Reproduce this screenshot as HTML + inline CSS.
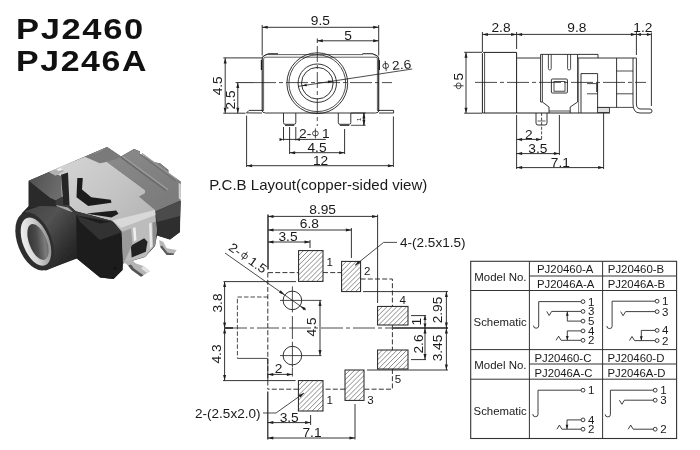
<!DOCTYPE html>
<html><head><meta charset="utf-8"><title>PJ2460</title>
<style>
html,body{margin:0;padding:0;background:#fff;}
body{width:700px;height:450px;overflow:hidden;font-family:"Liberation Sans",sans-serif;}
svg{display:block;font-family:"Liberation Sans",sans-serif;}
</style></head><body>
<svg width="700" height="450" viewBox="0 0 700 450">
<rect width="700" height="450" fill="#ffffff"/>
<defs><filter id="nf" x="0" y="0" width="700" height="450" filterUnits="userSpaceOnUse"><feOffset dx="0" dy="0"/></filter></defs>
<g filter="url(#nf)">
<defs>
<filter id="pb" x="-5%" y="-5%" width="110%" height="110%"><feGaussianBlur stdDeviation="0.7"/></filter>
<linearGradient id="gcyl" x1="0" y1="0" x2="1" y2="1">
<stop offset="0" stop-color="#444"/><stop offset="0.35" stop-color="#525252"/><stop offset="0.7" stop-color="#303030"/><stop offset="1" stop-color="#1c1c1c"/></linearGradient>
<linearGradient id="gmet" x1="0" y1="0" x2="1" y2="0.6">
<stop offset="0" stop-color="#d6d6d6"/><stop offset="0.6" stop-color="#c6c6c6"/><stop offset="1" stop-color="#b8b8b8"/></linearGradient>
<linearGradient id="gpl" x1="0" y1="0" x2="1" y2="1">
<stop offset="0" stop-color="#8e8e8e"/><stop offset="1" stop-color="#787878"/></linearGradient>
<linearGradient id="gblk" x1="0" y1="0" x2="1" y2="0.3"><stop offset="0" stop-color="#4e4e4e"/><stop offset="1" stop-color="#6c6c6c"/></linearGradient>
<linearGradient id="gring" x1="0" y1="0.3" x2="1" y2="0.7"><stop offset="0" stop-color="#f0f0f0"/><stop offset="0.5" stop-color="#d0d0d0"/><stop offset="1" stop-color="#8c8c8c"/></linearGradient>
<linearGradient id="ghole" x1="0" y1="0.2" x2="1" y2="0.8">
<stop offset="0" stop-color="#333"/><stop offset="0.45" stop-color="#4a4a4a"/><stop offset="0.8" stop-color="#7c7c7c"/><stop offset="1" stop-color="#606060"/></linearGradient>
</defs>
<g filter="url(#pb)">
<polygon points="28.7,180.8 107,147 121,156.5 134,149 140,151.5 140,154 155,162.5 160,163.3 168.3,170 168.3,173 180.5,181.5 180,232 170,239.5 157,235.5 155,246 145,257 123,263.5 122.5,270 113.5,279 100,277.5 77,258.5 45,270.5 30,262 20,245 17,228 22,213 28.7,206" fill="#262626" />
<polygon points="28.7,180.8 50,171.7 61,175 63,196.5 55.6,200.6 50,198" fill="url(#gblk)" />
<polygon points="28.7,181.5 50,198 55.6,200.6 56,206.5 28.7,207" fill="#2c2c2c" />
<polygon points="85,156.7 107,147 121,156.5 134,149 140,151.5 140,154 155,162.5 160,163.3 168.3,170 168.3,173 180.5,181.5 180.8,200.5 155.7,211.2 139,197 145,193 145,190 106.7,161.7 100,163.3" fill="url(#gpl)" />
<path d="M120.8,157 L166,190.5" stroke="#6c6c6c" stroke-width="1.6" fill="none"/>
<path d="M122.5,156.2 L168,189.8" stroke="#9c9c9c" stroke-width="1.4" fill="none"/>
<path d="M140.5,154.5 L176,181" stroke="#707070" stroke-width="1.5" fill="none"/>
<path d="M142,153.6 L177.5,180" stroke="#989898" stroke-width="1.2" fill="none"/>
<polygon points="100,151.7 107,147 121,156.5 118,158.5 106.7,161.7 100,163.3 85,156.7" fill="#7a7a7a" />
<polygon points="155.7,211.2 181,200.8 180,222 157,226" fill="#4c4c4c" />
<polygon points="178.6,183 180.8,184 181,200 178.8,198.5" fill="#d0d0d0" />
<polygon points="50,171.7 58.3,167.5 85,156.7 100,163.3 106.7,161.7 145,190 145,193.3 139.2,196.7 155,210 155,212 121,228.4 111.5,220.7 75.8,211.3 68.8,205.1 62,200 61,176" fill="url(#gmet)" />
<polygon points="49,172.3 58.5,168 64.5,171 55.5,175.8" fill="#b0b0b0" />
<polygon points="56,169.5 60,168 63,169.5 59,171" fill="#f0f0f0" />
<polygon points="61,174.8 68,172.4 69.5,205 63.3,205" fill="#262626" />
<polygon points="77.3,177.9 82.8,177.9 82,189.5 91.3,197.3 110.8,199.7 111.5,202.8 88.2,205.9 76.5,197.3" fill="#1e1e1e" />
<polygon points="91.3,212.9 116.2,210.5 118.5,213.7 111.5,217.5 86.7,213.7" fill="#1e1e1e" />
<polygon points="56,206.5 55.6,200.6 63,196.5 63.3,205 68.8,205.1 75.8,211.3 111.5,220.7 121,228.4 100,224 76.7,215.5 60,207.5" fill="#3a3a3a" />
<polygon points="56,205 68,207.5 73,212 61,210.5" fill="#a8a8a8" />
<polygon points="76.7,215.5 111.7,221.7 122.5,232 122.5,270 113.5,279 100,277.5 76.7,258.5" fill="#1e1e1e" />
<polygon points="76.7,215.5 100,223.5 112,221.5 122.5,232 100,240 80,222" fill="#303030" />
<polygon points="112.5,220.5 155,210 156.7,230 155,245 145,256.7 123.3,263.3 121.7,231.7" fill="#bcbcbc" />
<polygon points="112.5,220.5 155,210 155.6,215 121,228" fill="#d8d8d8" />
<polygon points="130.8,245.8 144.2,238.3 147.5,241.7 145.8,251.7 131.7,257.5" fill="#222" />
<polygon points="121.7,232 131,228.5 132.5,244 124,262.5 123,262.5" fill="#9a9a9a" />
<polygon points="133,228 135.5,227.3 136.5,240 134,241.5" fill="#efefef" />
<polygon points="149,223.5 151.5,222.8 152.5,246 150,249" fill="#e8e8e8" />
<polygon points="152.5,222.5 156,221.5 156.7,232 155,245 153,247.5" fill="#8c8c8c" />
<polygon points="123.3,261.7 131.7,260 136,263.5 143.3,266 150,271.2 141,276.7 131.7,270 128,265.5" fill="#b4b4b4" />
<polygon points="128,265.5 131.7,270 141,276.7 143.5,275.3 134,268.5 131,264.5" fill="#555" />
<polygon points="143.3,266 150,271.2 147,273 141,268.5" fill="#e0e0e0" />
<polygon points="159.2,240 163.3,241.7 166.7,248.3 176.7,250 173.3,255 166.7,255 160,246.7" fill="#b8b8b8" />
<polygon points="160,246.7 166.7,255 173.3,255 174.3,253.5 167.5,252.8 162,245.5" fill="#5a5a5a" />
<circle cx="115" cy="268.3" r="1.1" fill="#0c0c0c"/>
<polygon points="156.7,222 180,216 180,232 170,239.5 157.5,235.5" fill="#2e2e2e" />
<polygon points="25,211 40,206 58,206.5 76,214 76.5,257.5 46,270.5" fill="url(#gcyl)" />
<ellipse cx="34.6" cy="241.4" rx="17" ry="30.5" transform="rotate(-21 34.6 241.4)" fill="#2d2d2d"/>
<ellipse cx="36" cy="241.6" rx="13.2" ry="25.4" transform="rotate(-21 36 241.6)" fill="url(#gring)"/>
<ellipse cx="38" cy="242" rx="8.8" ry="19" transform="rotate(-21 38 242)" fill="url(#ghole)"/>
</g>
<text transform="translate(16.0 39) scale(1.17 1)" font-size="29.5" text-anchor="start" font-weight="bold" fill="#111" letter-spacing="1.4">PJ2460</text>
<text transform="translate(16.0 71.4) scale(1.148 1)" font-size="29.5" text-anchor="start" font-weight="bold" fill="#111" letter-spacing="1.4">PJ246A</text>
<line x1="262.2" y1="25" x2="262.2" y2="55.5" stroke="#1e1e1e" stroke-width="0.9" />
<line x1="378.7" y1="25" x2="378.7" y2="55.5" stroke="#1e1e1e" stroke-width="0.9" />
<line x1="262.2" y1="27.3" x2="378.7" y2="27.3" stroke="#1e1e1e" stroke-width="0.9" />
<polygon points="262.20,27.30 267.70,25.80 267.70,28.80" fill="#1e1e1e"/>
<polygon points="378.70,27.30 373.20,28.80 373.20,25.80" fill="#1e1e1e"/>
<text transform="translate(320.3 24.9) scale(1.1 1)" font-size="12.5" text-anchor="middle" font-weight="normal" fill="#1a1a1a" >9.5</text>
<line x1="317.3" y1="38.5" x2="317.3" y2="43" stroke="#1e1e1e" stroke-width="0.9" />
<line x1="317.3" y1="40.8" x2="378.7" y2="40.8" stroke="#1e1e1e" stroke-width="0.9" />
<polygon points="317.30,40.80 322.80,39.30 322.80,42.30" fill="#1e1e1e"/>
<polygon points="378.70,40.80 373.20,42.30 373.20,39.30" fill="#1e1e1e"/>
<text transform="translate(348 39.8) scale(1.1 1)" font-size="12.5" text-anchor="middle" font-weight="normal" fill="#1a1a1a" >5</text>
<path d="M262.2,110.5 L262.2,58.5 Q262.6,56 265,55.2 L268.5,53.8 L278,53.7" stroke="#1e1e1e" stroke-width="1.1" fill="none" />
<path d="M263.6,110.5 L263.6,59 Q264,57.2 266,57.2 L376,57.2 Q377.4,57.2 377.4,59 L377.4,110.5" stroke="#1e1e1e" stroke-width="0.7" fill="none" />
<path d="M268,54.6 L363,54.6" stroke="#1e1e1e" stroke-width="0.7" fill="none" />
<path d="M362.5,53.7 L372.5,53.7 L376,55.2 Q378.3,56 378.7,58.5 L378.7,110.5" stroke="#1e1e1e" stroke-width="1.1" fill="none" />
<line x1="261.4" y1="60" x2="261.4" y2="70" stroke="#1e1e1e" stroke-width="1.2" />
<line x1="379.4" y1="60" x2="379.4" y2="70" stroke="#1e1e1e" stroke-width="1.2" />
<path d="M263.6,110.4 L249,110.4 L246.5,112.9 L262,113 " stroke="#1e1e1e" stroke-width="0.9" fill="none" />
<path d="M377.4,110.4 L393.6,110.4 L393.6,113 L379,113" stroke="#1e1e1e" stroke-width="0.9" fill="none" />
<path d="M261.5,110 Q262.5,113 265.5,113 L375.5,113 Q378.5,113 379.5,110" stroke="#1e1e1e" stroke-width="0.9" fill="none" />
<circle cx="317.3" cy="83.2" r="30.4" fill="none" stroke="#1e1e1e" stroke-width="0.9"/>
<circle cx="317.3" cy="83.2" r="28.4" fill="none" stroke="#1e1e1e" stroke-width="0.8"/>
<circle cx="317.3" cy="83.2" r="19.2" fill="none" stroke="#1e1e1e" stroke-width="0.9"/>
<circle cx="317.3" cy="83.2" r="15.8" fill="none" stroke="#1e1e1e" stroke-width="0.9"/>
<line x1="254" y1="82.6" x2="392" y2="82.6" stroke="#1e1e1e" stroke-width="0.8" stroke-dasharray="22 3 4 3" />
<line x1="317.3" y1="46" x2="317.3" y2="126" stroke="#1e1e1e" stroke-width="0.8" stroke-dasharray="16 3 4 3" />
<line x1="298" y1="86.4" x2="412.2" y2="69" stroke="#1e1e1e" stroke-width="0.8" />
<polygon points="301.70,85.80 306.45,83.76 306.84,86.33" fill="#1e1e1e"/>
<polygon points="333.00,81.10 328.25,83.14 327.86,80.57" fill="#1e1e1e"/>
<g transform="translate(385.7 65.9) rotate(-6)"><ellipse cx="0" cy="0" rx="2.9" ry="2.465" fill="none" stroke="#1e1e1e" stroke-width="0.8"/><line x1="0" y1="-5" x2="0" y2="5" stroke="#1e1e1e" stroke-width="0.8"/></g>
<text transform="translate(392.5 70.1) rotate(-6) scale(1.1 1)" font-size="12.5" text-anchor="start" font-weight="normal" fill="#1a1a1a" >2.6</text>
<path d="M283.5,113 L283.5,122.5 Q283.5,124.3 285.1,124.3 L294.2,124.3 Q295.8,124.3 295.8,122.5 L295.8,113" stroke="#1e1e1e" stroke-width="0.9" fill="none" />
<line x1="285.0" y1="125.3" x2="294.3" y2="125.3" stroke="#1e1e1e" stroke-width="1.0" />
<path d="M338.3,113 L338.3,122.5 Q338.3,124.3 339.90000000000003,124.3 L349.2,124.3 Q350.8,124.3 350.8,122.5 L350.8,113" stroke="#1e1e1e" stroke-width="0.9" fill="none" />
<line x1="339.8" y1="125.3" x2="349.3" y2="125.3" stroke="#1e1e1e" stroke-width="1.0" />
<line x1="223.3" y1="57.9" x2="262" y2="57.9" stroke="#1e1e1e" stroke-width="0.9" />
<line x1="223.3" y1="113.2" x2="245.5" y2="113.2" stroke="#1e1e1e" stroke-width="0.9" />
<line x1="225.2" y1="57.9" x2="225.2" y2="113.2" stroke="#1e1e1e" stroke-width="0.9" />
<polygon points="225.20,57.90 226.70,63.40 223.70,63.40" fill="#1e1e1e"/>
<polygon points="225.20,113.20 223.70,107.70 226.70,107.70" fill="#1e1e1e"/>
<text transform="translate(221.6 85.8) rotate(-90) scale(1.1 1)" font-size="12.5" text-anchor="middle" font-weight="normal" fill="#1a1a1a" >4.5</text>
<line x1="235.6" y1="82.6" x2="254" y2="82.6" stroke="#1e1e1e" stroke-width="0.9" />
<line x1="237.8" y1="82.6" x2="237.8" y2="113.2" stroke="#1e1e1e" stroke-width="0.9" />
<polygon points="237.80,82.60 239.30,88.10 236.30,88.10" fill="#1e1e1e"/>
<polygon points="237.80,113.20 236.30,107.70 239.30,107.70" fill="#1e1e1e"/>
<text transform="translate(234.8 100) rotate(-90) scale(1.1 1)" font-size="12.5" text-anchor="middle" font-weight="normal" fill="#1a1a1a" >2.5</text>
<line x1="351" y1="125.3" x2="365.6" y2="125.3" stroke="#1e1e1e" stroke-width="0.8" />
<line x1="351" y1="113" x2="365.6" y2="113" stroke="#1e1e1e" stroke-width="0.8" />
<line x1="363.9" y1="113" x2="363.9" y2="125.3" stroke="#1e1e1e" stroke-width="0.9" />
<polygon points="363.90,113.00 365.40,118.50 362.40,118.50" fill="#1e1e1e"/>
<polygon points="363.90,125.30 362.40,119.80 365.40,119.80" fill="#1e1e1e"/>
<line x1="363.9" y1="113" x2="363.9" y2="125.3" stroke="#1e1e1e" stroke-width="0.9" />
<text transform="translate(360.6 119.3) rotate(-90) scale(1.1 1)" font-size="6" text-anchor="middle" font-weight="normal" fill="#1a1a1a" >1</text>
<line x1="283.5" y1="127" x2="283.5" y2="140.5" stroke="#1e1e1e" stroke-width="0.9" />
<line x1="295.8" y1="127" x2="295.8" y2="140.5" stroke="#1e1e1e" stroke-width="0.9" />
<line x1="289.6" y1="127" x2="289.6" y2="154" stroke="#1e1e1e" stroke-width="0.9" />
<line x1="283.5" y1="139.4" x2="325.8" y2="139.4" stroke="#1e1e1e" stroke-width="0.9" />
<polygon points="283.50,139.40 279.50,140.90 279.50,137.90" fill="#1e1e1e"/>
<polygon points="295.80,139.40 299.80,137.90 299.80,140.90" fill="#1e1e1e"/>
<text transform="translate(299 137.7) scale(1.1 1)" font-size="12.5" text-anchor="start" font-weight="normal" fill="#1a1a1a" >2-</text>
<g transform="translate(315.4 133.4) rotate(0)"><ellipse cx="0" cy="0" rx="2.9" ry="2.465" fill="none" stroke="#1e1e1e" stroke-width="0.8"/><line x1="0" y1="-5" x2="0" y2="5" stroke="#1e1e1e" stroke-width="0.8"/></g>
<text transform="translate(322 137.7) scale(1.1 1)" font-size="12.5" text-anchor="start" font-weight="normal" fill="#1a1a1a" >1</text>
<line x1="344.6" y1="129" x2="344.6" y2="154" stroke="#1e1e1e" stroke-width="0.9" />
<line x1="289.6" y1="152.7" x2="344.6" y2="152.7" stroke="#1e1e1e" stroke-width="0.9" />
<polygon points="289.60,152.70 295.10,151.20 295.10,154.20" fill="#1e1e1e"/>
<polygon points="344.60,152.70 339.10,154.20 339.10,151.20" fill="#1e1e1e"/>
<text transform="translate(317 151.6) scale(1.1 1)" font-size="12.5" text-anchor="middle" font-weight="normal" fill="#1a1a1a" >4.5</text>
<line x1="246.6" y1="115.7" x2="246.6" y2="167" stroke="#1e1e1e" stroke-width="0.9" />
<line x1="393.4" y1="116.5" x2="393.4" y2="167" stroke="#1e1e1e" stroke-width="0.9" />
<line x1="246.6" y1="165.7" x2="393.4" y2="165.7" stroke="#1e1e1e" stroke-width="0.9" />
<polygon points="246.60,165.70 252.10,164.20 252.10,167.20" fill="#1e1e1e"/>
<polygon points="393.40,165.70 387.90,167.20 387.90,164.20" fill="#1e1e1e"/>
<text transform="translate(320.6 165.2) scale(1.1 1)" font-size="12.5" text-anchor="middle" font-weight="normal" fill="#1a1a1a" >12</text>
<text transform="translate(209.3 189.6)" font-size="15" text-anchor="start" font-weight="normal" fill="#1a1a1a" textLength="218" lengthAdjust="spacingAndGlyphs" >P.C.B Layout(copper-sided view)</text>
<line x1="482.4" y1="32" x2="482.4" y2="52" stroke="#1e1e1e" stroke-width="0.9" />
<line x1="516.6" y1="32" x2="516.6" y2="49" stroke="#1e1e1e" stroke-width="0.9" />
<line x1="636.4" y1="31.6" x2="636.4" y2="55" stroke="#1e1e1e" stroke-width="0.9" />
<line x1="651.4" y1="32.5" x2="651.4" y2="106" stroke="#1e1e1e" stroke-width="0.9" />
<line x1="482.4" y1="34.4" x2="651.4" y2="34.4" stroke="#1e1e1e" stroke-width="0.9" />
<polygon points="482.40,34.40 487.90,32.90 487.90,35.90" fill="#1e1e1e"/>
<polygon points="516.60,34.40 511.10,35.90 511.10,32.90" fill="#1e1e1e"/>
<polygon points="516.60,34.40 522.10,32.90 522.10,35.90" fill="#1e1e1e"/>
<polygon points="636.40,34.40 630.90,35.90 630.90,32.90" fill="#1e1e1e"/>
<polygon points="636.40,34.40 640.90,32.90 640.90,35.90" fill="#1e1e1e"/>
<polygon points="651.40,34.40 646.90,35.90 646.90,32.90" fill="#1e1e1e"/>
<text transform="translate(501 32.4) scale(1.1 1)" font-size="12.5" text-anchor="middle" font-weight="normal" fill="#1a1a1a" >2.8</text>
<text transform="translate(576.8 32.4) scale(1.1 1)" font-size="12.5" text-anchor="middle" font-weight="normal" fill="#1a1a1a" >9.8</text>
<text transform="translate(642.8 32.4) scale(1.1 1)" font-size="12.5" text-anchor="middle" font-weight="normal" fill="#1a1a1a" >1.2</text>
<line x1="464.2" y1="52.3" x2="482" y2="52.3" stroke="#1e1e1e" stroke-width="0.9" />
<line x1="464.2" y1="113.2" x2="482" y2="113.2" stroke="#1e1e1e" stroke-width="0.9" />
<line x1="466" y1="52.3" x2="466" y2="113.2" stroke="#1e1e1e" stroke-width="0.9" />
<polygon points="466.00,52.30 467.50,57.80 464.50,57.80" fill="#1e1e1e"/>
<polygon points="466.00,113.20 464.50,107.70 467.50,107.70" fill="#1e1e1e"/>
<g transform="translate(458.6 85.8) rotate(-90)"><ellipse cx="0" cy="0" rx="2.9" ry="2.465" fill="none" stroke="#1e1e1e" stroke-width="0.8"/><line x1="0" y1="-5" x2="0" y2="5" stroke="#1e1e1e" stroke-width="0.8"/></g>
<text transform="translate(463.2 76.6) rotate(-90) scale(1.1 1)" font-size="12.5" text-anchor="middle" font-weight="normal" fill="#1a1a1a" >5</text>
<path d="M482.4,113 L482.4,53.6 L483.6,52.4 L516.6,52.4 L516.6,113" stroke="#1e1e1e" stroke-width="1.0" fill="none" />
<line x1="484.6" y1="52.6" x2="484.6" y2="113" stroke="#1e1e1e" stroke-width="0.8" />
<line x1="482.4" y1="113" x2="610" y2="113" stroke="#1e1e1e" stroke-width="1.0" />
<path d="M516.6,58 L540.6,58" stroke="#1e1e1e" stroke-width="0.9" fill="none" />
<path d="M540.6,102 L540.6,54.4 L598,54.4 L598,58" stroke="#1e1e1e" stroke-width="0.9" fill="none" />
<line x1="542.4" y1="54.4" x2="542.4" y2="102" stroke="#1e1e1e" stroke-width="0.8" />
<line x1="577.6" y1="54.4" x2="577.6" y2="102" stroke="#1e1e1e" stroke-width="0.9" />
<path d="M577.6,58 L636.4,58 L636.4,104" stroke="#1e1e1e" stroke-width="0.9" fill="none" />
<path d="M548.4,54.4 L548.4,68.6 Q548.4,70 549.8,70 Q551.2,70 551.2,68.6 L551.2,54.4" stroke="#1e1e1e" stroke-width="0.8" fill="none" />
<path d="M567.6,54.4 L567.6,68.6 Q567.6,70 569.1,70 Q570.6,70 570.6,68.6 L570.6,54.4" stroke="#1e1e1e" stroke-width="0.8" fill="none" />
<path d="M540.6,102 L542.4,102 L549,107 L549,113" stroke="#1e1e1e" stroke-width="0.9" fill="none" />
<path d="M577.6,102 L570.2,107 L570.2,113" stroke="#1e1e1e" stroke-width="0.9" fill="none" />
<line x1="549" y1="111" x2="570.2" y2="111" stroke="#1e1e1e" stroke-width="0.8" />
<rect x="551.4" y="79" width="16" height="14" fill="none" stroke="#1e1e1e" stroke-width="0.9" rx="1"/>
<rect x="554" y="81.6" width="11" height="9.6" fill="none" stroke="#1e1e1e" stroke-width="0.8"/>
<path d="M581,113 L581,73.6 L597.6,73.6 L597.6,107.4" stroke="#1e1e1e" stroke-width="0.9" fill="none" />
<line x1="578.6" y1="58" x2="578.6" y2="113" stroke="#1e1e1e" stroke-width="0.6" />
<line x1="587" y1="83.6" x2="597.6" y2="83.6" stroke="#1e1e1e" stroke-width="0.8" />
<line x1="597" y1="83.6" x2="597" y2="92" stroke="#1e1e1e" stroke-width="1.4" />
<line x1="587" y1="93.8" x2="597.6" y2="93.8" stroke="#1e1e1e" stroke-width="0.8" />
<line x1="616.6" y1="58" x2="616.6" y2="107.4" stroke="#1e1e1e" stroke-width="0.9" />
<line x1="633" y1="58" x2="633" y2="104" stroke="#1e1e1e" stroke-width="0.9" />
<line x1="616.6" y1="71" x2="633" y2="71" stroke="#1e1e1e" stroke-width="0.8" />
<line x1="616.6" y1="93.8" x2="633" y2="93.8" stroke="#1e1e1e" stroke-width="0.8" />
<line x1="597.6" y1="107.4" x2="633" y2="107.4" stroke="#1e1e1e" stroke-width="0.8" />
<rect x="597.6" y="107.4" width="12" height="5" fill="#ddd" stroke="#1e1e1e" stroke-width="0.8"/>
<path d="M633,104 Q633,113 640,113 L650,113 Q652,113 652,111 Q652,109 650,109 L641,109 Q636.4,109 636.4,104" stroke="#1e1e1e" stroke-width="0.9" fill="none" />
<line x1="475" y1="82.4" x2="646" y2="82.4" stroke="#1e1e1e" stroke-width="0.8" stroke-dasharray="22 3 4 3" />
<path d="M536,113 L536,123 Q536,125 538,125 L545,125 Q547,125 547,123 L547,113" stroke="#1e1e1e" stroke-width="0.9" fill="none" />
<line x1="537.5" y1="121" x2="545.5" y2="121" stroke="#1e1e1e" stroke-width="0.7" />
<line x1="541.6" y1="113" x2="541.6" y2="140" stroke="#1e1e1e" stroke-width="0.8" stroke-dasharray="3 1.6" />
<line x1="516.6" y1="115" x2="516.6" y2="169" stroke="#1e1e1e" stroke-width="0.9" />
<line x1="559.4" y1="115" x2="559.4" y2="155" stroke="#1e1e1e" stroke-width="0.9" />
<line x1="603.6" y1="113" x2="603.6" y2="169" stroke="#1e1e1e" stroke-width="0.9" />
<line x1="516.6" y1="139.4" x2="541.6" y2="139.4" stroke="#1e1e1e" stroke-width="0.9" />
<polygon points="516.60,139.40 522.10,137.90 522.10,140.90" fill="#1e1e1e"/>
<polygon points="541.60,139.40 536.10,140.90 536.10,137.90" fill="#1e1e1e"/>
<text transform="translate(528.8 138.6) scale(1.1 1)" font-size="12.5" text-anchor="middle" font-weight="normal" fill="#1a1a1a" >2</text>
<line x1="516.6" y1="153.6" x2="559.4" y2="153.6" stroke="#1e1e1e" stroke-width="0.9" />
<polygon points="516.60,153.60 522.10,152.10 522.10,155.10" fill="#1e1e1e"/>
<polygon points="559.40,153.60 553.90,155.10 553.90,152.10" fill="#1e1e1e"/>
<text transform="translate(537.8 152.5) scale(1.1 1)" font-size="12.5" text-anchor="middle" font-weight="normal" fill="#1a1a1a" >3.5</text>
<line x1="516.6" y1="167.6" x2="603.6" y2="167.6" stroke="#1e1e1e" stroke-width="0.9" />
<polygon points="516.60,167.60 522.10,166.10 522.10,169.10" fill="#1e1e1e"/>
<polygon points="603.60,167.60 598.10,169.10 598.10,166.10" fill="#1e1e1e"/>
<text transform="translate(560.3 166.6) scale(1.1 1)" font-size="12.5" text-anchor="middle" font-weight="normal" fill="#1a1a1a" >7.1</text>
<path d="M268,272.6 L298.6,272.6 M323,272.6 L341.6,272.6" stroke="#1e1e1e" stroke-width="0.9" fill="none" stroke-dasharray="5 2.2" />
<path d="M360.6,279 L392.4,279 L392.4,306.4 M392.4,325 L392.4,350 M392.4,369 L392.4,389.2 L364,389.2 M345,389.2 L323,389.2 M298.4,389.2 L267.8,389.2" stroke="#1e1e1e" stroke-width="0.9" fill="none" stroke-dasharray="5 2.2" />
<path d="M267.8,272.6 L267.8,389.2" stroke="#1e1e1e" stroke-width="0.9" fill="none" stroke-dasharray="5 2.2" />
<path d="M268,297 L237.4,297 L237.4,358.4" stroke="#1e1e1e" stroke-width="0.8" fill="none" stroke-dasharray="4.5 2" />
<line x1="237.4" y1="358.4" x2="267.8" y2="358.4" stroke="#1e1e1e" stroke-width="0.8" />
<clipPath id="cp298_250"><rect x="298.6" y="250.6" width="24.4" height="30.8"/></clipPath>
<g clip-path="url(#cp298_250)" stroke="#3a3a3a" stroke-width="0.6"><line x1="267.80" y1="281.4" x2="298.60" y2="250.6"/><line x1="272.70" y1="281.4" x2="303.50" y2="250.6"/><line x1="277.60" y1="281.4" x2="308.40" y2="250.6"/><line x1="282.50" y1="281.4" x2="313.30" y2="250.6"/><line x1="287.40" y1="281.4" x2="318.20" y2="250.6"/><line x1="292.30" y1="281.4" x2="323.10" y2="250.6"/><line x1="297.20" y1="281.4" x2="328.00" y2="250.6"/><line x1="302.10" y1="281.4" x2="332.90" y2="250.6"/><line x1="307.00" y1="281.4" x2="337.80" y2="250.6"/><line x1="311.90" y1="281.4" x2="342.70" y2="250.6"/><line x1="316.80" y1="281.4" x2="347.60" y2="250.6"/><line x1="321.70" y1="281.4" x2="352.50" y2="250.6"/><line x1="326.60" y1="281.4" x2="357.40" y2="250.6"/><line x1="331.50" y1="281.4" x2="362.30" y2="250.6"/><line x1="336.40" y1="281.4" x2="367.20" y2="250.6"/><line x1="341.30" y1="281.4" x2="372.10" y2="250.6"/><line x1="346.20" y1="281.4" x2="377.00" y2="250.6"/><line x1="351.10" y1="281.4" x2="381.90" y2="250.6"/></g>
<rect x="298.6" y="250.6" width="24.4" height="30.8" fill="none" stroke="#1e1e1e" stroke-width="1"/>
<clipPath id="cp298_380"><rect x="298.4" y="380.6" width="24.6" height="30.4"/></clipPath>
<g clip-path="url(#cp298_380)" stroke="#3a3a3a" stroke-width="0.6"><line x1="268.00" y1="411.0" x2="298.40" y2="380.6"/><line x1="272.90" y1="411.0" x2="303.30" y2="380.6"/><line x1="277.80" y1="411.0" x2="308.20" y2="380.6"/><line x1="282.70" y1="411.0" x2="313.10" y2="380.6"/><line x1="287.60" y1="411.0" x2="318.00" y2="380.6"/><line x1="292.50" y1="411.0" x2="322.90" y2="380.6"/><line x1="297.40" y1="411.0" x2="327.80" y2="380.6"/><line x1="302.30" y1="411.0" x2="332.70" y2="380.6"/><line x1="307.20" y1="411.0" x2="337.60" y2="380.6"/><line x1="312.10" y1="411.0" x2="342.50" y2="380.6"/><line x1="317.00" y1="411.0" x2="347.40" y2="380.6"/><line x1="321.90" y1="411.0" x2="352.30" y2="380.6"/><line x1="326.80" y1="411.0" x2="357.20" y2="380.6"/><line x1="331.70" y1="411.0" x2="362.10" y2="380.6"/><line x1="336.60" y1="411.0" x2="367.00" y2="380.6"/><line x1="341.50" y1="411.0" x2="371.90" y2="380.6"/><line x1="346.40" y1="411.0" x2="376.80" y2="380.6"/><line x1="351.30" y1="411.0" x2="381.70" y2="380.6"/></g>
<rect x="298.4" y="380.6" width="24.6" height="30.4" fill="none" stroke="#1e1e1e" stroke-width="1"/>
<clipPath id="cp341_261"><rect x="341.6" y="261.4" width="19" height="30.2"/></clipPath>
<g clip-path="url(#cp341_261)" stroke="#3a3a3a" stroke-width="0.6"><line x1="311.40" y1="291.59999999999997" x2="341.60" y2="261.4"/><line x1="316.30" y1="291.59999999999997" x2="346.50" y2="261.4"/><line x1="321.20" y1="291.59999999999997" x2="351.40" y2="261.4"/><line x1="326.10" y1="291.59999999999997" x2="356.30" y2="261.4"/><line x1="331.00" y1="291.59999999999997" x2="361.20" y2="261.4"/><line x1="335.90" y1="291.59999999999997" x2="366.10" y2="261.4"/><line x1="340.80" y1="291.59999999999997" x2="371.00" y2="261.4"/><line x1="345.70" y1="291.59999999999997" x2="375.90" y2="261.4"/><line x1="350.60" y1="291.59999999999997" x2="380.80" y2="261.4"/><line x1="355.50" y1="291.59999999999997" x2="385.70" y2="261.4"/><line x1="360.40" y1="291.59999999999997" x2="390.60" y2="261.4"/><line x1="365.30" y1="291.59999999999997" x2="395.50" y2="261.4"/><line x1="370.20" y1="291.59999999999997" x2="400.40" y2="261.4"/><line x1="375.10" y1="291.59999999999997" x2="405.30" y2="261.4"/><line x1="380.00" y1="291.59999999999997" x2="410.20" y2="261.4"/><line x1="384.90" y1="291.59999999999997" x2="415.10" y2="261.4"/><line x1="389.80" y1="291.59999999999997" x2="420.00" y2="261.4"/></g>
<rect x="341.6" y="261.4" width="19" height="30.2" fill="none" stroke="#1e1e1e" stroke-width="1"/>
<clipPath id="cp345_370"><rect x="345" y="370" width="19" height="30.4"/></clipPath>
<g clip-path="url(#cp345_370)" stroke="#3a3a3a" stroke-width="0.6"><line x1="314.60" y1="400.4" x2="345.00" y2="370"/><line x1="319.50" y1="400.4" x2="349.90" y2="370"/><line x1="324.40" y1="400.4" x2="354.80" y2="370"/><line x1="329.30" y1="400.4" x2="359.70" y2="370"/><line x1="334.20" y1="400.4" x2="364.60" y2="370"/><line x1="339.10" y1="400.4" x2="369.50" y2="370"/><line x1="344.00" y1="400.4" x2="374.40" y2="370"/><line x1="348.90" y1="400.4" x2="379.30" y2="370"/><line x1="353.80" y1="400.4" x2="384.20" y2="370"/><line x1="358.70" y1="400.4" x2="389.10" y2="370"/><line x1="363.60" y1="400.4" x2="394.00" y2="370"/><line x1="368.50" y1="400.4" x2="398.90" y2="370"/><line x1="373.40" y1="400.4" x2="403.80" y2="370"/><line x1="378.30" y1="400.4" x2="408.70" y2="370"/><line x1="383.20" y1="400.4" x2="413.60" y2="370"/><line x1="388.10" y1="400.4" x2="418.50" y2="370"/><line x1="393.00" y1="400.4" x2="423.40" y2="370"/></g>
<rect x="345" y="370" width="19" height="30.4" fill="none" stroke="#1e1e1e" stroke-width="1"/>
<clipPath id="cp377_306"><rect x="377.6" y="306.4" width="30.4" height="18.6"/></clipPath>
<g clip-path="url(#cp377_306)" stroke="#3a3a3a" stroke-width="0.6"><line x1="359.00" y1="325.0" x2="377.60" y2="306.4"/><line x1="363.90" y1="325.0" x2="382.50" y2="306.4"/><line x1="368.80" y1="325.0" x2="387.40" y2="306.4"/><line x1="373.70" y1="325.0" x2="392.30" y2="306.4"/><line x1="378.60" y1="325.0" x2="397.20" y2="306.4"/><line x1="383.50" y1="325.0" x2="402.10" y2="306.4"/><line x1="388.40" y1="325.0" x2="407.00" y2="306.4"/><line x1="393.30" y1="325.0" x2="411.90" y2="306.4"/><line x1="398.20" y1="325.0" x2="416.80" y2="306.4"/><line x1="403.10" y1="325.0" x2="421.70" y2="306.4"/><line x1="408.00" y1="325.0" x2="426.60" y2="306.4"/><line x1="412.90" y1="325.0" x2="431.50" y2="306.4"/><line x1="417.80" y1="325.0" x2="436.40" y2="306.4"/><line x1="422.70" y1="325.0" x2="441.30" y2="306.4"/></g>
<rect x="377.6" y="306.4" width="30.4" height="18.6" fill="none" stroke="#1e1e1e" stroke-width="1"/>
<clipPath id="cp377_350"><rect x="377.6" y="350" width="30.4" height="19"/></clipPath>
<g clip-path="url(#cp377_350)" stroke="#3a3a3a" stroke-width="0.6"><line x1="358.60" y1="369" x2="377.60" y2="350"/><line x1="363.50" y1="369" x2="382.50" y2="350"/><line x1="368.40" y1="369" x2="387.40" y2="350"/><line x1="373.30" y1="369" x2="392.30" y2="350"/><line x1="378.20" y1="369" x2="397.20" y2="350"/><line x1="383.10" y1="369" x2="402.10" y2="350"/><line x1="388.00" y1="369" x2="407.00" y2="350"/><line x1="392.90" y1="369" x2="411.90" y2="350"/><line x1="397.80" y1="369" x2="416.80" y2="350"/><line x1="402.70" y1="369" x2="421.70" y2="350"/><line x1="407.60" y1="369" x2="426.60" y2="350"/><line x1="412.50" y1="369" x2="431.50" y2="350"/><line x1="417.40" y1="369" x2="436.40" y2="350"/><line x1="422.30" y1="369" x2="441.30" y2="350"/></g>
<rect x="377.6" y="350" width="30.4" height="19" fill="none" stroke="#1e1e1e" stroke-width="1"/>
<text transform="translate(326.6 266.2) scale(1.1 1)" font-size="10.5" text-anchor="start" font-weight="normal" fill="#1a1a1a" >1</text>
<text transform="translate(326.6 403.8) scale(1.1 1)" font-size="10.5" text-anchor="start" font-weight="normal" fill="#1a1a1a" >1</text>
<text transform="translate(364 275) scale(1.1 1)" font-size="10.5" text-anchor="start" font-weight="normal" fill="#1a1a1a" >2</text>
<text transform="translate(367.2 403.8) scale(1.1 1)" font-size="10.5" text-anchor="start" font-weight="normal" fill="#1a1a1a" >3</text>
<text transform="translate(399.4 303.8) scale(1.1 1)" font-size="10.5" text-anchor="start" font-weight="normal" fill="#1a1a1a" >4</text>
<text transform="translate(394.8 383.2) scale(1.1 1)" font-size="10.5" text-anchor="start" font-weight="normal" fill="#1a1a1a" >5</text>
<line x1="225" y1="328" x2="392" y2="328" stroke="#1e1e1e" stroke-width="0.8" stroke-dasharray="22 3 4 3" />
<line x1="393" y1="328" x2="448" y2="328" stroke="#1e1e1e" stroke-width="1.6" />
<line x1="225" y1="328" x2="233" y2="328" stroke="#1e1e1e" stroke-width="1.5" />
<line x1="268" y1="214.6" x2="268" y2="269.5" stroke="#1e1e1e" stroke-width="1.4" />
<line x1="377.6" y1="214.6" x2="377.6" y2="303" stroke="#1e1e1e" stroke-width="0.9" />
<line x1="351.4" y1="228" x2="351.4" y2="258" stroke="#1e1e1e" stroke-width="0.9" />
<line x1="310" y1="240" x2="310" y2="248" stroke="#1e1e1e" stroke-width="0.9" />
<line x1="268" y1="216.4" x2="377.6" y2="216.4" stroke="#1e1e1e" stroke-width="0.9" />
<polygon points="268.00,216.40 273.50,214.90 273.50,217.90" fill="#1e1e1e"/>
<polygon points="377.60,216.40 372.10,217.90 372.10,214.90" fill="#1e1e1e"/>
<text transform="translate(322.6 214) scale(1.1 1)" font-size="12.5" text-anchor="middle" font-weight="normal" fill="#1a1a1a" >8.95</text>
<line x1="268" y1="230" x2="351.4" y2="230" stroke="#1e1e1e" stroke-width="0.9" />
<polygon points="268.00,230.00 273.50,228.50 273.50,231.50" fill="#1e1e1e"/>
<polygon points="351.40,230.00 345.90,231.50 345.90,228.50" fill="#1e1e1e"/>
<text transform="translate(309.4 228.4) scale(1.1 1)" font-size="12.5" text-anchor="middle" font-weight="normal" fill="#1a1a1a" >6.8</text>
<line x1="268" y1="242" x2="310" y2="242" stroke="#1e1e1e" stroke-width="0.9" />
<polygon points="268.00,242.00 273.50,240.50 273.50,243.50" fill="#1e1e1e"/>
<polygon points="310.00,242.00 304.50,243.50 304.50,240.50" fill="#1e1e1e"/>
<text transform="translate(288 241.4) scale(1.1 1)" font-size="12.5" text-anchor="middle" font-weight="normal" fill="#1a1a1a" >3.5</text>
<circle cx="292.4" cy="300.4" r="9.3" fill="none" stroke="#1e1e1e" stroke-width="0.9"/>
<line x1="292.4" y1="286.4" x2="292.4" y2="312.4" stroke="#1e1e1e" stroke-width="0.8" />
<circle cx="292.4" cy="355.6" r="9.3" fill="none" stroke="#1e1e1e" stroke-width="0.9"/>
<line x1="292.4" y1="341.6" x2="292.4" y2="367.6" stroke="#1e1e1e" stroke-width="0.8" />
<line x1="280" y1="300.4" x2="321.5" y2="300.4" stroke="#1e1e1e" stroke-width="0.8" />
<line x1="280" y1="355.6" x2="321.5" y2="355.6" stroke="#1e1e1e" stroke-width="0.8" />
<line x1="292.4" y1="316" x2="292.4" y2="339" stroke="#1e1e1e" stroke-width="0.8" />
<line x1="225" y1="253" x2="306" y2="310" stroke="#1e1e1e" stroke-width="0.8" />
<polygon points="284.79,295.05 279.02,292.82 280.75,290.37" fill="#1e1e1e"/>
<polygon points="300.01,305.75 305.78,307.98 304.05,310.43" fill="#1e1e1e"/>
<g transform="translate(226.5 251) rotate(35.1)">
<text transform="translate(0 -2.2) scale(1.1 1)" font-size="12.5" text-anchor="start" font-weight="normal" fill="#1a1a1a" >2-</text>
<g transform="translate(17.6 -6.4) rotate(0)"><ellipse cx="0" cy="0" rx="2.9" ry="2.465" fill="none" stroke="#1e1e1e" stroke-width="0.8"/><line x1="0" y1="-5" x2="0" y2="5" stroke="#1e1e1e" stroke-width="0.8"/></g>
<text transform="translate(24 -2.2) scale(1.1 1)" font-size="12.5" text-anchor="start" font-weight="normal" fill="#1a1a1a" >1.5</text>
</g>
<line x1="320" y1="300.4" x2="320" y2="355.6" stroke="#1e1e1e" stroke-width="0.9" />
<polygon points="320.00,300.40 321.50,305.90 318.50,305.90" fill="#1e1e1e"/>
<polygon points="320.00,355.60 318.50,350.10 321.50,350.10" fill="#1e1e1e"/>
<text transform="translate(316.2 327) rotate(-90) scale(1.1 1)" font-size="12.5" text-anchor="middle" font-weight="normal" fill="#1a1a1a" >4.5</text>
<line x1="223.5" y1="281.6" x2="296" y2="281.6" stroke="#1e1e1e" stroke-width="0.9" />
<line x1="223" y1="380.6" x2="295.6" y2="380.6" stroke="#1e1e1e" stroke-width="0.9" />
<line x1="224.6" y1="281.6" x2="224.6" y2="328" stroke="#1e1e1e" stroke-width="0.9" />
<polygon points="224.60,281.60 226.10,287.10 223.10,287.10" fill="#1e1e1e"/>
<polygon points="224.60,328.00 223.10,322.50 226.10,322.50" fill="#1e1e1e"/>
<line x1="224.6" y1="328" x2="224.6" y2="380.6" stroke="#1e1e1e" stroke-width="0.9" />
<polygon points="224.60,328.00 226.10,333.50 223.10,333.50" fill="#1e1e1e"/>
<polygon points="224.60,380.60 223.10,375.10 226.10,375.10" fill="#1e1e1e"/>
<text transform="translate(221.6 303) rotate(-90) scale(1.1 1)" font-size="12.5" text-anchor="middle" font-weight="normal" fill="#1a1a1a" >3.8</text>
<text transform="translate(221.2 354) rotate(-90) scale(1.1 1)" font-size="12.5" text-anchor="middle" font-weight="normal" fill="#1a1a1a" >4.3</text>
<line x1="267.8" y1="358.4" x2="267.8" y2="380.6" stroke="#1e1e1e" stroke-width="0.9" />
<line x1="292.4" y1="368" x2="292.4" y2="376.5" stroke="#1e1e1e" stroke-width="0.8" />
<line x1="267.8" y1="374.4" x2="292.4" y2="374.4" stroke="#1e1e1e" stroke-width="0.9" />
<polygon points="267.80,374.40 273.30,372.90 273.30,375.90" fill="#1e1e1e"/>
<polygon points="292.40,374.40 286.90,375.90 286.90,372.90" fill="#1e1e1e"/>
<text transform="translate(278.6 373.2) scale(1.1 1)" font-size="12.5" text-anchor="middle" font-weight="normal" fill="#1a1a1a" >2</text>
<line x1="267.8" y1="391.6" x2="267.8" y2="439.5" stroke="#1e1e1e" stroke-width="1.2" />
<line x1="310.6" y1="415" x2="310.6" y2="425" stroke="#1e1e1e" stroke-width="0.9" />
<line x1="267.8" y1="422.6" x2="310.6" y2="422.6" stroke="#1e1e1e" stroke-width="0.9" />
<polygon points="267.80,422.60 273.30,421.10 273.30,424.10" fill="#1e1e1e"/>
<polygon points="310.60,422.60 305.10,424.10 305.10,421.10" fill="#1e1e1e"/>
<text transform="translate(289.2 421.8) scale(1.1 1)" font-size="12.5" text-anchor="middle" font-weight="normal" fill="#1a1a1a" >3.5</text>
<line x1="355" y1="404" x2="355" y2="439.5" stroke="#1e1e1e" stroke-width="0.9" />
<line x1="267.8" y1="438" x2="355" y2="438" stroke="#1e1e1e" stroke-width="0.9" />
<polygon points="267.80,438.00 273.30,436.50 273.30,439.50" fill="#1e1e1e"/>
<polygon points="355.00,438.00 349.50,439.50 349.50,436.50" fill="#1e1e1e"/>
<text transform="translate(312 436.6) scale(1.1 1)" font-size="12.5" text-anchor="middle" font-weight="normal" fill="#1a1a1a" >7.1</text>
<text transform="translate(195 417.6)" font-size="12.5" text-anchor="start" font-weight="normal" fill="#1a1a1a" textLength="65.5" lengthAdjust="spacingAndGlyphs" >2-(2.5x2.0)</text>
<path d="M263,413 L276,413 L304,393" stroke="#1e1e1e" stroke-width="0.8" fill="none" />
<polygon points="304.00,393.00 300.40,397.42 298.65,394.98" fill="#1e1e1e"/>
<text transform="translate(400 247)" font-size="12.5" text-anchor="start" font-weight="normal" fill="#1a1a1a" textLength="65.5" lengthAdjust="spacingAndGlyphs" >4-(2.5x1.5)</text>
<path d="M397,242.4 L383.6,242.4 L355,265.4" stroke="#1e1e1e" stroke-width="0.8" fill="none" />
<polygon points="355.00,265.40 358.35,260.78 360.23,263.12" fill="#1e1e1e"/>
<line x1="363" y1="291.6" x2="448" y2="291.6" stroke="#1e1e1e" stroke-width="0.9" />
<line x1="367" y1="370" x2="448" y2="370" stroke="#1e1e1e" stroke-width="0.9" />
<line x1="446.4" y1="291.6" x2="446.4" y2="328" stroke="#1e1e1e" stroke-width="0.9" />
<polygon points="446.40,291.60 447.90,297.10 444.90,297.10" fill="#1e1e1e"/>
<polygon points="446.40,328.00 444.90,322.50 447.90,322.50" fill="#1e1e1e"/>
<line x1="446.4" y1="328" x2="446.4" y2="370" stroke="#1e1e1e" stroke-width="0.9" />
<polygon points="446.40,328.00 447.90,333.50 444.90,333.50" fill="#1e1e1e"/>
<polygon points="446.40,370.00 444.90,364.50 447.90,364.50" fill="#1e1e1e"/>
<text transform="translate(441.6 310) rotate(-90) scale(1.1 1)" font-size="12.5" text-anchor="middle" font-weight="normal" fill="#1a1a1a" >2.95</text>
<text transform="translate(441.6 348) rotate(-90) scale(1.1 1)" font-size="12.5" text-anchor="middle" font-weight="normal" fill="#1a1a1a" >3.45</text>
<line x1="411" y1="315.6" x2="426" y2="315.6" stroke="#1e1e1e" stroke-width="0.9" />
<line x1="411" y1="359.6" x2="426" y2="359.6" stroke="#1e1e1e" stroke-width="0.9" />
<line x1="425" y1="315.6" x2="425" y2="328" stroke="#1e1e1e" stroke-width="0.9" />
<polygon points="425.00,315.60 426.50,320.10 423.50,320.10" fill="#1e1e1e"/>
<polygon points="425.00,328.00 423.50,323.50 426.50,323.50" fill="#1e1e1e"/>
<line x1="425" y1="328" x2="425" y2="359.6" stroke="#1e1e1e" stroke-width="0.9" />
<polygon points="425.00,328.00 426.50,333.50 423.50,333.50" fill="#1e1e1e"/>
<polygon points="425.00,359.60 423.50,354.10 426.50,354.10" fill="#1e1e1e"/>
<text transform="translate(421.4 321.6) rotate(-90) scale(1.1 1)" font-size="12.5" text-anchor="middle" font-weight="normal" fill="#1a1a1a" >1</text>
<text transform="translate(422.6 344) rotate(-90) scale(1.1 1)" font-size="12.5" text-anchor="middle" font-weight="normal" fill="#1a1a1a" >2.6</text>
<rect x="470.7" y="261.3" width="205.90000000000003" height="177.2" fill="none" stroke="#333" stroke-width="1.1"/>
<line x1="529.4" y1="261.3" x2="529.4" y2="438.5" stroke="#333" stroke-width="1.0" />
<line x1="602.6" y1="261.3" x2="602.6" y2="438.5" stroke="#333" stroke-width="1.0" />
<line x1="470.7" y1="290.5" x2="676.6" y2="290.5" stroke="#333" stroke-width="1.0" />
<line x1="470.7" y1="349.6" x2="676.6" y2="349.6" stroke="#333" stroke-width="1.0" />
<line x1="470.7" y1="379.2" x2="676.6" y2="379.2" stroke="#333" stroke-width="1.0" />
<line x1="529.4" y1="276" x2="676.6" y2="276" stroke="#333" stroke-width="1.0" />
<line x1="529.4" y1="364" x2="676.6" y2="364" stroke="#333" stroke-width="1.0" />
<text transform="translate(474.3 281)" font-size="11.5" text-anchor="start" font-weight="normal" fill="#1a1a1a" textLength="52.2" lengthAdjust="spacingAndGlyphs" >Model No.</text>
<text transform="translate(474.3 369.2)" font-size="11.5" text-anchor="start" font-weight="normal" fill="#1a1a1a" textLength="52.2" lengthAdjust="spacingAndGlyphs" >Model No.</text>
<text transform="translate(473.6 325.8)" font-size="11.5" text-anchor="start" font-weight="normal" fill="#1a1a1a" textLength="53" lengthAdjust="spacingAndGlyphs" >Schematic</text>
<text transform="translate(473.6 415.2)" font-size="11.5" text-anchor="start" font-weight="normal" fill="#1a1a1a" textLength="53" lengthAdjust="spacingAndGlyphs" >Schematic</text>
<text transform="translate(537 273)" font-size="11.5" text-anchor="start" font-weight="normal" fill="#1a1a1a" textLength="56.4" lengthAdjust="spacingAndGlyphs" >PJ20460-A</text>
<text transform="translate(537 287.8)" font-size="11.5" text-anchor="start" font-weight="normal" fill="#1a1a1a" textLength="57.4" lengthAdjust="spacingAndGlyphs" >PJ2046A-A</text>
<text transform="translate(607.8 273)" font-size="11.5" text-anchor="start" font-weight="normal" fill="#1a1a1a" textLength="56.4" lengthAdjust="spacingAndGlyphs" >PJ20460-B</text>
<text transform="translate(607.8 287.8)" font-size="11.5" text-anchor="start" font-weight="normal" fill="#1a1a1a" textLength="57.4" lengthAdjust="spacingAndGlyphs" >PJ2046A-B</text>
<text transform="translate(534.4 361.7)" font-size="11.5" text-anchor="start" font-weight="normal" fill="#1a1a1a" textLength="57" lengthAdjust="spacingAndGlyphs" >PJ20460-C</text>
<text transform="translate(534.4 377.4)" font-size="11.5" text-anchor="start" font-weight="normal" fill="#1a1a1a" textLength="58" lengthAdjust="spacingAndGlyphs" >PJ2046A-C</text>
<text transform="translate(607.4 361.7)" font-size="11.5" text-anchor="start" font-weight="normal" fill="#1a1a1a" textLength="57" lengthAdjust="spacingAndGlyphs" >PJ20460-D</text>
<text transform="translate(607.4 377.4)" font-size="11.5" text-anchor="start" font-weight="normal" fill="#1a1a1a" textLength="58" lengthAdjust="spacingAndGlyphs" >PJ2046A-D</text>
<circle cx="583" cy="301.6" r="1.9" fill="#fff" stroke="#1e1e1e" stroke-width="0.85"/>
<text transform="translate(588 305.5) scale(1.05 1)" font-size="11" text-anchor="start" font-weight="normal" fill="#1a1a1a" >1</text>
<path d="M581.1,301.6 L538.7,301.6 L538.7,326 Q538.7,328.2 536.1,328.2 Q533.5,328.2 533.5,325.6" stroke="#1e1e1e" stroke-width="0.85" fill="none" />
<circle cx="583" cy="311.4" r="1.9" fill="#fff" stroke="#1e1e1e" stroke-width="0.85"/>
<text transform="translate(588 315.29999999999995) scale(1.05 1)" font-size="11" text-anchor="start" font-weight="normal" fill="#1a1a1a" >3</text>
<path d="M581.1,311.4 L551.7,311.4 L549.2,315.5 L546.7,311.4" stroke="#1e1e1e" stroke-width="0.85" fill="none" />
<circle cx="583" cy="321.1" r="1.9" fill="#fff" stroke="#1e1e1e" stroke-width="0.85"/>
<text transform="translate(588 325.0) scale(1.05 1)" font-size="11" text-anchor="start" font-weight="normal" fill="#1a1a1a" >5</text>
<path d="M581.1,321.1 L567.3,321.1 L567.3,311.4" stroke="#1e1e1e" stroke-width="0.85" fill="none" />
<polygon points="567.30,311.40 568.70,315.80 565.90,315.80" fill="#1e1e1e"/>
<circle cx="583" cy="330.9" r="1.9" fill="#fff" stroke="#1e1e1e" stroke-width="0.85"/>
<text transform="translate(588 334.79999999999995) scale(1.05 1)" font-size="11" text-anchor="start" font-weight="normal" fill="#1a1a1a" >4</text>
<path d="M581.1,330.9 L567.3,330.9 L567.3,340.3" stroke="#1e1e1e" stroke-width="0.85" fill="none" />
<polygon points="567.30,340.30 565.90,335.90 568.70,335.90" fill="#1e1e1e"/>
<circle cx="583" cy="340.3" r="1.9" fill="#fff" stroke="#1e1e1e" stroke-width="0.85"/>
<text transform="translate(588 344.2) scale(1.05 1)" font-size="11" text-anchor="start" font-weight="normal" fill="#1a1a1a" >2</text>
<path d="M581.1,340.3 L561.1,340.3 L558.6,336.2 L556.1,340.3" stroke="#1e1e1e" stroke-width="0.85" fill="none" />
<circle cx="657.1" cy="301.2" r="1.9" fill="#fff" stroke="#1e1e1e" stroke-width="0.85"/>
<text transform="translate(662 305.09999999999997) scale(1.05 1)" font-size="11" text-anchor="start" font-weight="normal" fill="#1a1a1a" >1</text>
<path d="M655.2,301.2 L612.1,301.2 L612.1,326.4 Q612.1,328.59999999999997 609.5,328.59999999999997 Q606.9,328.59999999999997 606.9,326.0" stroke="#1e1e1e" stroke-width="0.85" fill="none" />
<circle cx="657.1" cy="311.6" r="1.9" fill="#fff" stroke="#1e1e1e" stroke-width="0.85"/>
<text transform="translate(662 315.5) scale(1.05 1)" font-size="11" text-anchor="start" font-weight="normal" fill="#1a1a1a" >3</text>
<path d="M655.2,311.6 L625.6,311.6 L623.1,315.70000000000005 L620.6,311.6" stroke="#1e1e1e" stroke-width="0.85" fill="none" />
<circle cx="657.1" cy="330.4" r="1.9" fill="#fff" stroke="#1e1e1e" stroke-width="0.85"/>
<text transform="translate(662 334.29999999999995) scale(1.05 1)" font-size="11" text-anchor="start" font-weight="normal" fill="#1a1a1a" >4</text>
<path d="M655.2,330.4 L641.3,330.4 L641.3,340.6" stroke="#1e1e1e" stroke-width="0.85" fill="none" />
<polygon points="641.30,340.60 639.90,336.20 642.70,336.20" fill="#1e1e1e"/>
<circle cx="657.1" cy="340.6" r="1.9" fill="#fff" stroke="#1e1e1e" stroke-width="0.85"/>
<text transform="translate(662 344.5) scale(1.05 1)" font-size="11" text-anchor="start" font-weight="normal" fill="#1a1a1a" >2</text>
<path d="M655.2,340.6 L634.5,340.6 L632.0,336.5 L629.5,340.6" stroke="#1e1e1e" stroke-width="0.85" fill="none" />
<circle cx="583" cy="390.2" r="1.9" fill="#fff" stroke="#1e1e1e" stroke-width="0.85"/>
<text transform="translate(588 394.09999999999997) scale(1.05 1)" font-size="11" text-anchor="start" font-weight="normal" fill="#1a1a1a" >1</text>
<path d="M581.1,390.2 L538,390.2 L538,414.5 Q538,416.7 535.4,416.7 Q532.8,416.7 532.8,414.1" stroke="#1e1e1e" stroke-width="0.85" fill="none" />
<circle cx="583" cy="419.9" r="1.9" fill="#fff" stroke="#1e1e1e" stroke-width="0.85"/>
<text transform="translate(588 423.79999999999995) scale(1.05 1)" font-size="11" text-anchor="start" font-weight="normal" fill="#1a1a1a" >4</text>
<path d="M581.1,419.9 L567,419.9 L567,429.2" stroke="#1e1e1e" stroke-width="0.85" fill="none" />
<polygon points="567.00,429.20 565.60,424.80 568.40,424.80" fill="#1e1e1e"/>
<circle cx="583" cy="429.2" r="1.9" fill="#fff" stroke="#1e1e1e" stroke-width="0.85"/>
<text transform="translate(588 433.09999999999997) scale(1.05 1)" font-size="11" text-anchor="start" font-weight="normal" fill="#1a1a1a" >2</text>
<path d="M581.1,429.2 L561.9,429.2 L559.4,425.09999999999997 L556.9,429.2" stroke="#1e1e1e" stroke-width="0.85" fill="none" />
<circle cx="655.2" cy="390.2" r="1.9" fill="#fff" stroke="#1e1e1e" stroke-width="0.85"/>
<text transform="translate(660.3 394.09999999999997) scale(1.05 1)" font-size="11" text-anchor="start" font-weight="normal" fill="#1a1a1a" >1</text>
<path d="M653.3000000000001,390.2 L610.4,390.2 L610.4,414.7 Q610.4,416.9 607.8,416.9 Q605.1999999999999,416.9 605.1999999999999,414.3" stroke="#1e1e1e" stroke-width="0.85" fill="none" />
<circle cx="655.2" cy="400.2" r="1.9" fill="#fff" stroke="#1e1e1e" stroke-width="0.85"/>
<text transform="translate(660.3 404.09999999999997) scale(1.05 1)" font-size="11" text-anchor="start" font-weight="normal" fill="#1a1a1a" >3</text>
<path d="M653.3000000000001,400.2 L624.4,400.2 L621.9,404.3 L619.4,400.2" stroke="#1e1e1e" stroke-width="0.85" fill="none" />
<circle cx="655.2" cy="429.2" r="1.9" fill="#fff" stroke="#1e1e1e" stroke-width="0.85"/>
<text transform="translate(660.3 433.09999999999997) scale(1.05 1)" font-size="11" text-anchor="start" font-weight="normal" fill="#1a1a1a" >2</text>
<path d="M653.3000000000001,429.2 L633.2,429.2 L630.7,425.09999999999997 L628.2,429.2" stroke="#1e1e1e" stroke-width="0.85" fill="none" />
</g>
</svg>
</body></html>
